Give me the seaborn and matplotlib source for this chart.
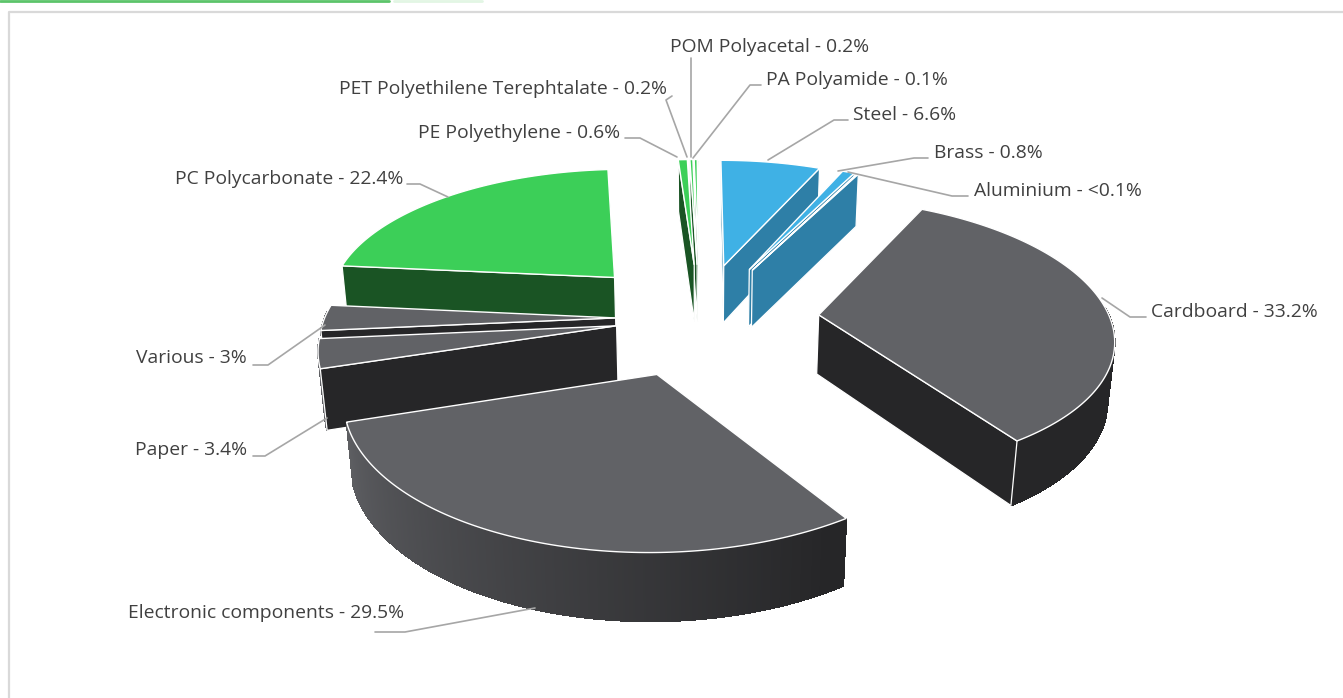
import numpy as np
import pandas as pd
import matplotlib
matplotlib.use("Agg")
import matplotlib.pyplot as plt
from matplotlib.patches import Polygon
import seaborn as sns

materials = ["Steel", "Brass", "Aluminium", "Cardboard", "Electronic components", "Paper",
             "Various", "PC Polycarbonate", "PE Polyethylene", "PET Polyethilene Terephtalate",
             "POM Polyacetal", "PA Polyamide"]
shares = [6.6, 0.8, 0.1, 33.2, 29.5, 3.4, 3.0, 22.4, 0.6, 0.2, 0.2, 0.1]
share_labels = ["6.6%", "0.8%", "<0.1%", "33.2%", "29.5%", "3.4%", "3%", "22.4%", "0.6%", "0.2%", "0.2%", "0.1%"]
groups = ["metal", "metal", "metal", "grey", "grey", "grey", "grey", "green", "green", "green", "green", "green"]
explode = [0.42, 0.42, 0.42, 0.41, 0.42, 0.29, 0.29, 0.44, 0.42, 0.42, 0.42, 0.42]

# label anchor (x, y, ha) and leader line in pixels
label_pos = [(853, 115, "left"), (934, 153, "left"), (974, 191, "left"), (1151, 312, "left"),
             (404, 613, "right"), (247, 450, "right"), (247, 358, "right"), (403, 179, "right"),
             (620, 133, "right"), (667, 89, "right"), (869, 47, "right"), (766, 80, "left")]
leaders = [[(848, 120), (834, 120), (768, 160)], [(928, 158), (914, 158), (838, 171)],
           [(968, 196), (952, 196), (848, 172)], [(1146, 317), (1130, 317), (1102, 298)],
           [(375, 632), (405, 632), (535, 608)], [(253, 456), (265, 456), (327, 418)],
           [(253, 365), (268, 365), (325, 325)], [(407, 184), (420, 184), (448, 197)],
           [(625, 138), (640, 138), (677, 157)], [(672, 96), (666, 100), (687, 157)],
           [(691, 58), (691, 157)], [(761, 85), (750, 85), (693, 158)]]

top_colors = {"metal": "#3fb1e5", "grey": "#616266", "green": "#3ccf58"}
side_colors = {"metal": "#2e7fa7", "grey": "#262628", "green": "#1a5424"}

CX, CY = 700, 318
RADIUS = 291
DEPTH = 68
TILT = np.radians(27.5)
CAMERA = 1800


def project(x, y, z):
    view = y * np.cos(TILT) + z * np.sin(TILT)
    s = CAMERA / (CAMERA - view)
    return np.column_stack([CX + s * x, CY + s * (y * np.sin(TILT) - z * np.cos(TILT))])


def area(pts):
    x, y = pts[:, 0], pts[:, 1]
    return 0.5 * np.sum(x * np.roll(y, -1) - np.roll(x, -1) * y)


def draw_slice(ax, row):
    a0, a1 = np.radians(row.start), np.radians(row.end)
    mid = (a0 + a1) / 2
    ox = row.explode * RADIUS * np.sin(mid)
    oy = -row.explode * RADIUS * np.cos(mid)
    th = np.linspace(a0, a1, max(3, int(row.end - row.start) * 3))
    ax_x = ox + RADIUS * np.sin(th)
    ax_y = oy - RADIUS * np.cos(th)
    top_col = top_colors[row.group]
    side_col = side_colors[row.group]

    # outer wall, shaded by the way it faces
    shades = sns.blend_palette([side_col, top_col], 256)
    up = project(ax_x, ax_y, np.zeros_like(th))
    down = project(ax_x, ax_y, np.full_like(th, -DEPTH))
    for i in range(len(th) - 1):
        if np.cos((th[i] + th[i + 1]) / 2) > 0.05:
            continue
        f = np.clip((np.degrees(th[i]) - 150) / 110, 0, 0.95)
        quad = np.vstack([up[i], up[i + 1], down[i + 1], down[i]])
        col = shades[int(f * 255)]
        ax.add_patch(Polygon(quad, fc=col, ec=col, lw=0.6, antialiased=False, zorder=row.order))

    # radial faces, only those turned to the viewer
    for ang in (a0, a1):
        ex, ey = ox + RADIUS * np.sin(ang), oy - RADIUS * np.cos(ang)
        face = project(np.array([ox, ex, ex, ox]), np.array([oy, ey, ey, oy]),
                       np.array([0, 0, -DEPTH, -DEPTH]))
        facing = area(face) < 0 if ang == a0 else area(face) > 0
        if facing:
            ax.add_patch(Polygon(face, fc=side_col, ec="white", lw=0.9, zorder=row.order))

    apex = project(np.array([ox]), np.array([oy]), np.array([0.0]))
    ax.add_patch(Polygon(np.vstack([apex, up]), fc=top_col, ec="white", lw=1.0, zorder=row.order))


df = pd.DataFrame({"material": materials, "share": shares, "label": share_labels,
                   "group": groups, "explode": explode})
df["end"] = df["share"].cumsum() / df["share"].sum() * 360
df["start"] = df["end"].shift(fill_value=0)
mid_angle = np.radians((df["start"] + df["end"]) / 2)
df["order"] = 2 + (-df["explode"] * np.cos(mid_angle)).rank()

sns.set_theme(style="white")
plt.rcParams["font.family"] = ["Open Sans", "DejaVu Sans"]

fig = plt.figure(figsize=(13.43, 6.98), dpi=100)
ax = fig.add_axes([0, 0, 1, 1])
ax.set_xlim(0, 1343)
ax.set_ylim(698, 0)
ax.axis("off")

# page furniture
ax.plot([9, 9, 1343], [698, 12, 12], color="#d9d9d9", lw=1.6, zorder=1)
ax.plot([0, 389], [0.5, 0.5], color="#5cc46a", lw=2, zorder=1)
ax.plot([394, 482], [0.5, 0.5], color="#e2f6e4", lw=2, zorder=1)

for row in df.sort_values("order").itertuples():
    draw_slice(ax, row)

for name, text, (x, y, ha), line in zip(df["material"], df["label"], label_pos, leaders):
    ax.text(x, y, f"{name} - {text}", ha=ha, va="center", fontsize=13.9, color="#404040", zorder=30)
    xs, ys = zip(*line)
    ax.plot(xs, ys, color="#a6a6a6", lw=1.2, zorder=29)

fig.savefig("out.png", dpi=100)
